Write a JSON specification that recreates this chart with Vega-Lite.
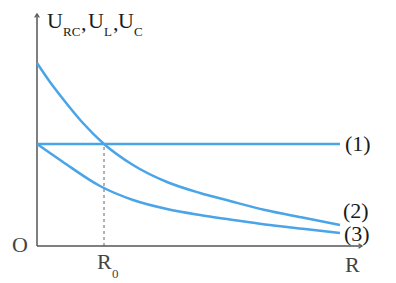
{
  "$schema": "https://vega.github.io/schema/vega-lite/v6.json",
  "width": 325,
  "height": 231,
  "padding": {"left": 37, "top": 15, "right": 34, "bottom": 37},
  "autosize": {"type": "none"},
  "background": "white",
  "config": {"view": {"stroke": null}},
  "datasets": {
    "curves": [
      {"series": "1", "R": 0, "U": 102},
      {"series": "1", "R": 303, "U": 102},
      {"series": "2", "R": 0, "U": 183},
      {"series": "2", "R": 13, "U": 164},
      {"series": "2", "R": 26, "U": 147},
      {"series": "2", "R": 45, "U": 124},
      {"series": "2", "R": 67, "U": 102},
      {"series": "2", "R": 96, "U": 81},
      {"series": "2", "R": 130, "U": 64},
      {"series": "2", "R": 163, "U": 53},
      {"series": "2", "R": 193, "U": 45},
      {"series": "2", "R": 228, "U": 36},
      {"series": "2", "R": 268, "U": 28},
      {"series": "2", "R": 303, "U": 21},
      {"series": "3", "R": 0, "U": 102},
      {"series": "3", "R": 26, "U": 84},
      {"series": "3", "R": 63, "U": 60},
      {"series": "3", "R": 96, "U": 46},
      {"series": "3", "R": 130, "U": 37},
      {"series": "3", "R": 163, "U": 31},
      {"series": "3", "R": 193, "U": 26.5},
      {"series": "3", "R": 228, "U": 21.5},
      {"series": "3", "R": 268, "U": 17},
      {"series": "3", "R": 303, "U": 13}
    ],
    "labels": [
      {"text": "U", "R": 10, "U": 218, "kind": "main"},
      {"text": "RC", "R": 26, "U": 210, "kind": "sub"},
      {"text": ",", "R": 44, "U": 216, "kind": "main"},
      {"text": "U", "R": 51, "U": 218, "kind": "main"},
      {"text": "L", "R": 67, "U": 210, "kind": "sub"},
      {"text": ",", "R": 76, "U": 216, "kind": "main"},
      {"text": "U", "R": 81, "U": 218, "kind": "main"},
      {"text": "C", "R": 97, "U": 210, "kind": "sub"},
      {"text": "(1)", "R": 308, "U": 95, "kind": "main"},
      {"text": "(2)", "R": 306, "U": 28, "kind": "main"},
      {"text": "(3)", "R": 307, "U": 5, "kind": "main"},
      {"text": "O", "R": -25, "U": -6, "kind": "axis"},
      {"text": "R", "R": 60, "U": -23, "kind": "axis"},
      {"text": "0", "R": 75, "U": -32, "kind": "axissub"},
      {"text": "R", "R": 308, "U": -26, "kind": "axis"}
    ]
  },
  "layer": [
    {
      "data": {"values": [{"R": 67, "U": 0, "U2": 102}]},
      "mark": {"type": "rule", "color": "#666", "strokeDash": [3, 3], "strokeWidth": 1},
      "encoding": {
        "x": {"field": "R", "type": "quantitative", "scale": {"domain": [0, 325]}, "axis": null},
        "y": {"field": "U", "type": "quantitative", "scale": {"domain": [0, 231]}, "axis": null},
        "y2": {"field": "U2"}
      }
    },
    {
      "data": {"values": [{"R": 0, "U": 0, "R2": 0, "U2": 231}, {"R": 0, "U": 0, "R2": 324, "U2": 0}]},
      "mark": {"type": "rule", "color": "#555", "strokeWidth": 1.5},
      "encoding": {
        "x": {"field": "R", "type": "quantitative", "scale": {"domain": [0, 325]}, "axis": null},
        "y": {"field": "U", "type": "quantitative", "scale": {"domain": [0, 231]}, "axis": null},
        "x2": {"field": "R2"},
        "y2": {"field": "U2"}
      }
    },
    {
      "data": {"values": [{"R": 0, "U": 232}]},
      "mark": {"type": "point", "shape": "M-0.6,0.9L0,0L0.6,0.9", "filled": false, "stroke": "#555", "strokeWidth": 1.3, "size": 60, "opacity": 1},
      "encoding": {
        "x": {"field": "R", "type": "quantitative", "scale": {"domain": [0, 325]}, "axis": null},
        "y": {"field": "U", "type": "quantitative", "scale": {"domain": [0, 231]}, "axis": null}
      }
    },
    {
      "data": {"values": [{"R": 325, "U": 0}]},
      "mark": {"type": "point", "shape": "M-0.9,-0.6L0,0L-0.9,0.6", "filled": false, "stroke": "#555", "strokeWidth": 1.3, "size": 60, "opacity": 1},
      "encoding": {
        "x": {"field": "R", "type": "quantitative", "scale": {"domain": [0, 325]}, "axis": null},
        "y": {"field": "U", "type": "quantitative", "scale": {"domain": [0, 231]}, "axis": null}
      }
    },
    {
      "data": {"name": "curves"},
      "mark": {"type": "line", "color": "#4aa4e8", "strokeWidth": 2.5, "interpolate": "monotone"},
      "encoding": {
        "x": {"field": "R", "type": "quantitative", "scale": {"domain": [0, 325]}, "axis": null},
        "y": {"field": "U", "type": "quantitative", "scale": {"domain": [0, 231]}, "axis": null},
        "detail": {"field": "series"}
      }
    },
    {
      "data": {"name": "labels"},
      "transform": [{"filter": "datum.kind === 'main'"}],
      "mark": {"type": "text", "font": "Liberation Serif", "fontSize": 22, "color": "#1a1a1a", "align": "left", "baseline": "alphabetic"},
      "encoding": {
        "x": {"field": "R", "type": "quantitative", "scale": {"domain": [0, 325]}, "axis": null},
        "y": {"field": "U", "type": "quantitative", "scale": {"domain": [0, 231]}, "axis": null},
        "text": {"field": "text"}
      }
    },
    {
      "data": {"name": "labels"},
      "transform": [{"filter": "datum.kind === 'sub'"}],
      "mark": {"type": "text", "font": "Liberation Serif", "fontSize": 13, "color": "#1a1a1a", "align": "left", "baseline": "alphabetic"},
      "encoding": {
        "x": {"field": "R", "type": "quantitative", "scale": {"domain": [0, 325]}, "axis": null},
        "y": {"field": "U", "type": "quantitative", "scale": {"domain": [0, 231]}, "axis": null},
        "text": {"field": "text"}
      }
    },
    {
      "data": {"name": "labels"},
      "transform": [{"filter": "datum.kind === 'axis'"}],
      "mark": {"type": "text", "font": "Liberation Serif", "fontSize": 22, "color": "#444", "align": "left", "baseline": "alphabetic"},
      "encoding": {
        "x": {"field": "R", "type": "quantitative", "scale": {"domain": [0, 325]}, "axis": null},
        "y": {"field": "U", "type": "quantitative", "scale": {"domain": [0, 231]}, "axis": null},
        "text": {"field": "text"}
      }
    },
    {
      "data": {"name": "labels"},
      "transform": [{"filter": "datum.kind === 'axissub'"}],
      "mark": {"type": "text", "font": "Liberation Serif", "fontSize": 13, "color": "#444", "align": "left", "baseline": "alphabetic"},
      "encoding": {
        "x": {"field": "R", "type": "quantitative", "scale": {"domain": [0, 325]}, "axis": null},
        "y": {"field": "U", "type": "quantitative", "scale": {"domain": [0, 231]}, "axis": null},
        "text": {"field": "text"}
      }
    }
  ]
}
